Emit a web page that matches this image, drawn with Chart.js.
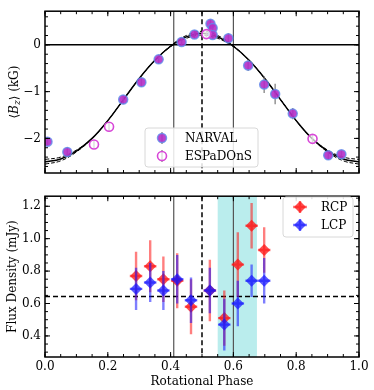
<!DOCTYPE html>
<html>
<head>
<meta charset="utf-8">
<script src="https://cdn.jsdelivr.net/npm/chart.js@4/dist/chart.umd.min.js"></script>
<style>
  body { margin: 0; background: #fff; }
  canvas { display: block; }
</style>
</head>
<body>
<canvas id="bzChart" width="374" height="185"></canvas>
<canvas id="fluxChart" width="374" height="205"></canvas>
<script>
"use strict";

// ---- data ----
const phaseTicks = [0, 0.2, 0.4, 0.6, 0.8, 1.0];
const bzTicks = [-2, -1, 0];
const fluxTicks = [0.4, 0.6, 0.8, 1.0, 1.2];

// fitted <Bz> curve plus the two dashed bounds
const modelPhase = [0, 0.05, 0.1, 0.15, 0.2, 0.25, 0.3, 0.35, 0.4, 0.45, 0.5,
                    0.55, 0.6, 0.65, 0.7, 0.75, 0.8, 0.85, 0.9, 0.95, 1.0];
const modelBz   = [-2.50, -2.44, -2.27, -2.00, -1.62, -1.17, -0.72, -0.33, -0.03, 0.17, 0.25,
                    0.17, -0.03, -0.33, -0.72, -1.17, -1.62, -2.00, -2.27, -2.44, -2.50];
const modelBzHi = [-2.55, -2.48, -2.29, -2.00, -1.62, -1.17, -0.72, -0.33, -0.02, 0.20, 0.29,
                    0.20, -0.02, -0.33, -0.72, -1.17, -1.62, -2.00, -2.29, -2.48, -2.55];
const modelBzLo = [-2.45, -2.40, -2.25, -2.00, -1.62, -1.17, -0.72, -0.33, -0.04, 0.14, 0.21,
                    0.14, -0.04, -0.33, -0.72, -1.17, -1.62, -2.00, -2.25, -2.40, -2.45];

const narvalPhase = [0.008, 0.071, 0.249, 0.307, 0.362, 0.435, 0.476, 0.527, 0.534, 0.534,
                     0.584, 0.647, 0.698, 0.733, 0.789, 0.902, 0.944];
const narvalBz    = [-2.07, -2.29, -1.17, -0.80, -0.31, 0.06, 0.22, 0.45, 0.36, 0.21,
                     0.14, -0.44, -0.85, -1.05, -1.47, -2.36, -2.34];
const narvalErr   = [0.08, 0.10, 0.10, 0.10, 0.10, 0.08, 0.08, 0.10, 0.10, 0.08,
                     0.11, 0.12, 0.18, 0.22, 0.12, 0.10, 0.08];

const espPhase = [0.156, 0.204, 0.514, 0.852];
const espBz    = [-2.13, -1.75, 0.23, -2.01];
const espErr   = [0.08, 0.10, 0.06, 0.08];

const radioPhase = [0.290, 0.335, 0.377, 0.421, 0.465, 0.525, 0.571, 0.614, 0.658, 0.698];
const rcpFlux = [0.77, 0.83, 0.75, 0.74, 0.58, 0.68, 0.51, 0.84, 1.08, 0.93];
const rcpErr  = [0.15, 0.16, 0.14, 0.17, 0.17, 0.19, 0.17, 0.20, 0.14, 0.14];
const lcpFlux = [0.69, 0.73, 0.68, 0.75, 0.62, 0.68, 0.47, 0.60, 0.74, 0.74];
const lcpErr  = [0.13, 0.12, 0.12, 0.15, 0.14, 0.14, 0.16, 0.14, 0.10, 0.14];
const radioPhaseErr = 0.02;

const nullPhases = [0.41, 0.60];   // solid vertical lines
const maxPhase = 0.5;              // dashed vertical line
const fluxMean = 0.643;            // dashed horizontal line
const enhancedBand = [0.55, 0.675];

const serif = "'DejaVu Serif', 'Liberation Serif', serif";
Chart.defaults.font.family = serif;
Chart.defaults.font.size = 12;
Chart.defaults.color = '#000';

const pts = (xs, ys) => xs.map((x, i) => ({ x: x, y: ys[i] }));
const minus = v => (v < 0 ? '\u2212' + Math.abs(v) : String(v));

// vertical error bars (and optional horizontal ones) drawn just before each dataset
const errorBars = {
  id: 'errorBars',
  beforeDatasetDraw(chart, args) {
    const ds = chart.data.datasets[args.index];
    if (!ds.yErr) return;
    const { ctx, chartArea } = chart;
    const xs = chart.scales.x, ys = chart.scales.y;
    ctx.save();
    ctx.beginPath();
    ctx.rect(chartArea.left, chartArea.top, chartArea.width, chartArea.height);
    ctx.clip();
    ctx.beginPath();
    ctx.strokeStyle = ds.errColor;
    ctx.lineWidth = ds.errWidth;
    ds.data.forEach((p, i) => {
      const px = xs.getPixelForValue(p.x);
      ctx.moveTo(px, ys.getPixelForValue(p.y - ds.yErr[i]));
      ctx.lineTo(px, ys.getPixelForValue(p.y + ds.yErr[i]));
      if (ds.xErr) {
        const py = ys.getPixelForValue(p.y);
        ctx.moveTo(xs.getPixelForValue(p.x - ds.xErr), py);
        ctx.lineTo(xs.getPixelForValue(p.x + ds.xErr), py);
      }
    });
    ctx.stroke();
    ctx.restore();
  }
};

// reference lines and shaded band behind the data
const guides = {
  id: 'guides',
  beforeDatasetsDraw(chart, args, opts) {
    const { ctx, chartArea: a } = chart;
    const xs = chart.scales.x, ys = chart.scales.y;
    ctx.save();
    if (opts.band) {
      const x0 = xs.getPixelForValue(opts.band[0]), x1 = xs.getPixelForValue(opts.band[1]);
      ctx.fillStyle = 'rgba(0, 190, 190, 0.27)';
      ctx.fillRect(x0, a.top, x1 - x0, a.height);
    }
    ctx.strokeStyle = '#555';
    ctx.lineWidth = 1.2;
    nullPhases.forEach(p => {
      const x = xs.getPixelForValue(p);
      ctx.beginPath(); ctx.moveTo(x, a.top); ctx.lineTo(x, a.bottom); ctx.stroke();
    });
    ctx.strokeStyle = '#000';
    ctx.lineWidth = 1.5;
    ctx.setLineDash([5, 3]);
    const xm = xs.getPixelForValue(maxPhase);
    ctx.beginPath(); ctx.moveTo(xm, a.top); ctx.lineTo(xm, a.bottom); ctx.stroke();
    if (opts.hline !== undefined) {
      ctx.setLineDash(opts.hlineDash ? [5, 3] : []);
      const y = ys.getPixelForValue(opts.hline);
      ctx.beginPath(); ctx.moveTo(a.left, y); ctx.lineTo(a.right, y); ctx.stroke();
    }
    ctx.restore();
  }
};

// axes box, inward ticks on all sides, legend box, custom y title
const frame = {
  id: 'frame',
  afterDraw(chart, args, opts) {
    const { ctx, chartArea: a } = chart;
    const xs = chart.scales.x, ys = chart.scales.y;
    ctx.save();
    ctx.strokeStyle = '#000';
    ctx.lineWidth = 1;
    const tick = (v, scale, len, horiz) => {
      const p = scale.getPixelForValue(v);
      ctx.beginPath();
      if (horiz) {
        ctx.moveTo(p, a.bottom); ctx.lineTo(p, a.bottom - len);
        ctx.moveTo(p, a.top); ctx.lineTo(p, a.top + len);
      } else {
        ctx.moveTo(a.left, p); ctx.lineTo(a.left + len, p);
        ctx.moveTo(a.right, p); ctx.lineTo(a.right - len, p);
      }
      ctx.stroke();
    };
    for (let k = Math.ceil(xs.min / opts.xMinor); k * opts.xMinor <= xs.max + 1e-9; k++) tick(k * opts.xMinor, xs, 3, true);
    for (let k = Math.ceil(ys.min / opts.yMinor); k * opts.yMinor <= ys.max + 1e-9; k++) tick(k * opts.yMinor, ys, 3, false);
    opts.xMajor.forEach(v => tick(v, xs, 5, true));
    opts.yMajor.forEach(v => tick(v, ys, 5, false));
    ctx.lineWidth = 1.5;
    ctx.strokeRect(a.left, a.top, a.width, a.height);

    // legend
    const L = opts.legend;
    ctx.fillStyle = 'rgba(255,255,255,0.85)';
    ctx.strokeStyle = '#d8d8d8';
    ctx.lineWidth = 1;
    ctx.beginPath();
    ctx.roundRect(L.x, L.y, L.w, L.h, 3);
    ctx.fill(); ctx.stroke();
    ctx.font = '12px ' + serif;
    ctx.textBaseline = 'middle';
    ctx.textAlign = 'left';
    L.items.forEach((it, i) => {
      const my = L.y + L.first + i * L.gap;
      const mx = L.x + L.mark;
      const ds = chart.data.datasets[it.ds];
      ctx.strokeStyle = ds.errColor;
      ctx.lineWidth = ds.errWidth;
      ctx.beginPath();
      ctx.moveTo(mx, my - 6); ctx.lineTo(mx, my + 6);
      if (ds.xErr) { ctx.moveTo(mx - 7, my); ctx.lineTo(mx + 7, my); }
      ctx.stroke();
      ctx.fillStyle = ds.backgroundColor;
      ctx.strokeStyle = ds.borderColor;
      ctx.lineWidth = ds.borderWidth;
      ctx.beginPath();
      if (ds.pointStyle === 'rectRot') {
        const r = ds.pointRadius;
        ctx.moveTo(mx, my - r); ctx.lineTo(mx + r, my); ctx.lineTo(mx, my + r); ctx.lineTo(mx - r, my); ctx.closePath();
      } else {
        ctx.arc(mx, my, ds.pointRadius, 0, Math.PI * 2);
      }
      ctx.fill();
      if (ds.borderWidth) ctx.stroke();
      ctx.fillStyle = '#000';
      ctx.fillText(it.label, L.x + L.text, my + 1);
    });

    // y title with italic B and subscript z
    if (opts.bzTitle) {
      ctx.translate(15, (a.top + a.bottom) / 2);
      ctx.rotate(-Math.PI / 2);
      const f = '12px ' + serif, fi = 'italic 12px ' + serif, fs = 'italic 9px ' + serif;
      const parts = [['\u27E8', f, 0], ['B', fi, 0], ['z', fs, 3], ['\u27E9 (kG)', f, 0]];
      let w = 0;
      parts.forEach(p => { ctx.font = p[1]; w += ctx.measureText(p[0]).width; });
      let x = -w / 2;
      ctx.fillStyle = '#000';
      parts.forEach(p => { ctx.font = p[1]; ctx.fillText(p[0], x, p[2]); x += ctx.measureText(p[0]).width; });
    }
    ctx.restore();
  }
};

const noGrid = { display: false, drawTicks: false };

new Chart(document.getElementById('bzChart'), {
  type: 'scatter',
  data: {
    datasets: [
      { data: pts(espPhase, espBz), yErr: espErr, errColor: 'rgba(120,120,120,0.8)', errWidth: 1.5,
        pointStyle: 'circle', pointRadius: 4.5, backgroundColor: 'rgba(255,255,255,0.7)',
        borderColor: '#d848d8', borderWidth: 1.6, order: 0 },
      { data: pts(narvalPhase, narvalBz), yErr: narvalErr, errColor: 'rgba(120,120,120,0.8)', errWidth: 1.5,
        pointStyle: 'circle', pointRadius: 4.5, backgroundColor: 'rgba(180,45,200,0.9)',
        borderColor: 'rgba(95,140,235,0.8)', borderWidth: 1.5, order: 1 },
      { data: pts(modelPhase, modelBz), showLine: true, pointRadius: 0, borderColor: '#000',
        borderWidth: 1.5, tension: 0.4, order: 2 },
      { data: pts(modelPhase, modelBzHi), showLine: true, pointRadius: 0, borderColor: '#000',
        borderWidth: 1, borderDash: [4, 2], tension: 0.4, order: 3 },
      { data: pts(modelPhase, modelBzLo), showLine: true, pointRadius: 0, borderColor: '#000',
        borderWidth: 1, borderDash: [4, 2], tension: 0.4, order: 4 }
    ]
  },
  options: {
    responsive: false,
    animation: false,
    layout: { padding: { top: 8, right: 15, left: 0, bottom: 0 } },
    scales: {
      x: {
        type: 'linear', min: 0, max: 1,
        grid: noGrid, border: { display: false },
        ticks: { display: false },
        afterFit: s => { s.height = 12; }
      },
      y: {
        type: 'linear', min: -2.74, max: 0.72,
        grid: noGrid, border: { display: false },
        afterBuildTicks: s => { s.ticks = bzTicks.map(v => ({ value: v })); },
        ticks: { padding: 4, callback: v => minus(v) },
        afterFit: s => { s.width = 45; }
      }
    },
    plugins: {
      legend: { display: false },
      tooltip: { enabled: false },
      guides: { hline: 0, hlineDash: false },
      frame: {
        xMinor: 0.05, yMinor: 0.2, xMajor: phaseTicks, yMajor: bzTicks, bzTitle: true,
        legend: { x: 145, y: 128, w: 113, h: 39, first: 10, gap: 18, mark: 17, text: 40,
                  items: [{ label: 'NARVAL', ds: 1 }, { label: 'ESPaDOnS', ds: 0 }] }
      }
    }
  },
  plugins: [guides, errorBars, frame]
});

new Chart(document.getElementById('fluxChart'), {
  type: 'scatter',
  data: {
    datasets: [
      { data: pts(radioPhase, lcpFlux), yErr: lcpErr, xErr: radioPhaseErr,
        errColor: 'rgba(20,20,255,0.55)', errWidth: 2.4,
        pointStyle: 'rectRot', pointRadius: 6, backgroundColor: 'rgba(20,20,255,0.7)',
        borderColor: 'rgba(20,20,255,0.7)', borderWidth: 0, order: 0 },
      { data: pts(radioPhase, rcpFlux), yErr: rcpErr, xErr: radioPhaseErr,
        errColor: 'rgba(255,20,20,0.55)', errWidth: 2.4,
        pointStyle: 'rectRot', pointRadius: 6, backgroundColor: 'rgba(255,20,20,0.75)',
        borderColor: 'rgba(255,20,20,0.75)', borderWidth: 0, order: 1 }
    ]
  },
  options: {
    responsive: false,
    animation: false,
    layout: { padding: { top: 7, right: 15, left: 0, bottom: 0 } },
    scales: {
      x: {
        type: 'linear', min: 0, max: 1,
        grid: noGrid, border: { display: false },
        afterBuildTicks: s => { s.ticks = phaseTicks.map(v => ({ value: v })); },
        ticks: { padding: 3, maxRotation: 0, callback: v => v.toFixed(1) },
        title: { display: true, text: 'Rotational Phase', font: { size: 12 }, padding: { top: 2, bottom: 1 } },
        afterFit: s => { s.height = 33; }
      },
      y: {
        type: 'linear', min: 0.27, max: 1.262,
        grid: noGrid, border: { display: false },
        afterBuildTicks: s => { s.ticks = fluxTicks.map(v => ({ value: v })); },
        ticks: { padding: 4, callback: v => v.toFixed(1) },
        title: { display: true, text: 'Flux Density (mJy)', font: { size: 12 }, padding: { top: 6, bottom: 0 } },
        afterFit: s => { s.width = 45; }
      }
    },
    plugins: {
      legend: { display: false },
      tooltip: { enabled: false },
      guides: { band: enhancedBand, hline: fluxMean, hlineDash: true },
      frame: {
        xMinor: 0.05, yMinor: 0.05, xMajor: phaseTicks, yMajor: fluxTicks, bzTitle: false,
        legend: { x: 283, y: 12, w: 70, h: 40, first: 10, gap: 18, mark: 17, text: 38,
                  items: [{ label: 'RCP', ds: 1 }, { label: 'LCP', ds: 0 }] }
      }
    }
  },
  plugins: [guides, errorBars, frame]
});
</script>
</body>
</html>
